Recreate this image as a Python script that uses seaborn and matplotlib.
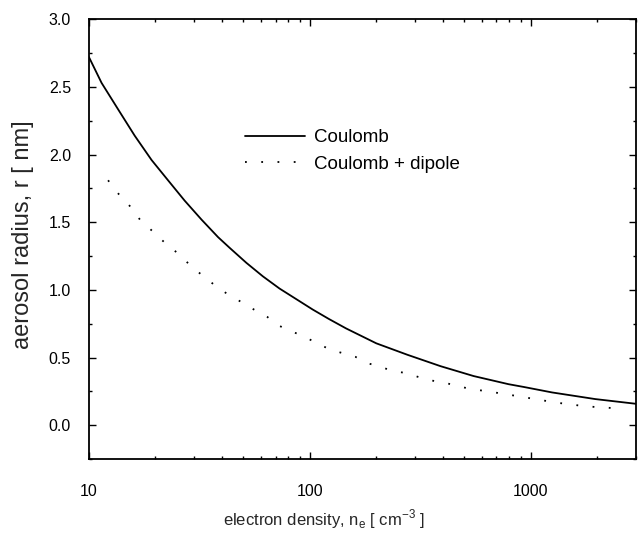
import matplotlib
matplotlib.use("Agg")
import matplotlib.pyplot as plt
import matplotlib.ticker as mticker
import numpy as np
import pandas as pd
import seaborn as sns

# ---- data ----
coulomb_x = [10, 11.4, 13.6, 16.1, 19.2, 22.8, 27.1, 32.3, 38.4, 43.4, 51.6, 61.3,
             72.9, 103, 122, 146, 200, 277, 391, 552, 794, 934, 1250, 1960, 3000]
coulomb_y = [2.72, 2.53, 2.33, 2.14, 1.96, 1.81, 1.66, 1.52, 1.39, 1.31, 1.20, 1.10,
             1.01, 0.855, 0.785, 0.715, 0.605, 0.52, 0.436, 0.363, 0.303, 0.282, 0.242, 0.193, 0.158]

dipole_x = [12.2, 13.6, 15.3, 17.0, 19.5, 22.0, 25.7, 29.2, 37.4, 42.3, 49.0, 55.8,
            64.2, 72.5, 94.5, 123, 161, 181, 210, 238, 274, 309, 356, 402, 525, 688,
            780, 899, 1010, 1167, 1328, 1534, 1744, 2270, 2600]
dipole_y = [1.81, 1.71, 1.62, 1.52, 1.43, 1.35, 1.26, 1.17, 1.03, 0.97, 0.91, 0.855,
            0.80, 0.735, 0.653, 0.56, 0.505, 0.46, 0.43, 0.40, 0.385, 0.357, 0.33, 0.316,
            0.27, 0.242, 0.227, 0.212, 0.197, 0.18, 0.165, 0.153, 0.14, 0.128, 0.125]

series_names = ["Coulomb", "Coulomb + dipole"]
x_ticks = [10, 100, 1000]
x_tick_labels = ["10", "100", "1000"]
y_ticks = [0.0, 0.5, 1.0, 1.5, 2.0, 2.5, 3.0]

df = pd.concat([
    pd.DataFrame({"n": coulomb_x, "r": coulomb_y, "model": series_names[0]}),
    pd.DataFrame({"n": dipole_x, "r": dipole_y, "model": series_names[1]}),
], ignore_index=True)

sns.set_theme(style="ticks")
plt.rcParams["font.family"] = ["Liberation Sans", "DejaVu Sans"]
plt.rcParams["mathtext.fontset"] = "custom"
plt.rcParams["mathtext.rm"] = "Liberation Sans"

fig = plt.figure(figsize=(6.4, 5.36), dpi=100)
ax = fig.add_axes([89 / 640, 1 - 459 / 536, (636 - 89) / 640, (459 - 19.3) / 536])

sns.lineplot(data=df, x="n", y="r", hue="model", style="model",
             palette={series_names[0]: "black", series_names[1]: "black"},
             dashes={series_names[0]: "", series_names[1]: (1, 8)},
             linewidth=1.3, sort=False, estimator=None, ax=ax)

ax.set_xscale("log")
ax.set_xlim(10, 3000)
ax.set_ylim(-0.25, 3.0)
ax.set_xticks(x_ticks)
ax.set_xticklabels(x_tick_labels)
ax.xaxis.set_minor_locator(mticker.LogLocator(base=10, subs=np.arange(2, 10)))
ax.xaxis.set_minor_formatter(mticker.NullFormatter())
ax.set_yticks(y_ticks)
ax.yaxis.set_major_formatter(mticker.FormatStrFormatter("%.1f"))
ax.yaxis.set_minor_locator(mticker.MultipleLocator(0.25))

for s in ax.spines.values():
    s.set_visible(True)
    s.set_linewidth(1.3)
    s.set_color("black")

ax.tick_params(which="both", direction="in", top=True, right=True, colors="black",
               labelsize=11.5, width=1.0)
ax.tick_params(axis="x", which="major", length=5, pad=18)
ax.tick_params(axis="y", which="major", length=5, pad=13)
ax.tick_params(which="minor", length=2.5)

ax.set_xlabel(r"electron density, n$_\mathregular{e}$ [ cm$^\mathregular{-3}$ ]",
              fontsize=12)
ax.xaxis.set_label_coords((324 - 89) / 547, -0.11)
ax.set_ylabel("aerosol radius, r [ nm]", fontsize=17)
ax.yaxis.set_label_coords(-0.1, 0.51)

leg = ax.legend(loc="upper left", bbox_to_anchor=(0.285, 0.75), frameon=False,
                handlelength=3.2, handletextpad=0.5, borderaxespad=0, borderpad=0,
                fontsize=13.5, labelspacing=0.5)
for t in leg.get_texts():
    t.set_color("black")

fig.savefig("out.png", dpi=100, facecolor="white")
